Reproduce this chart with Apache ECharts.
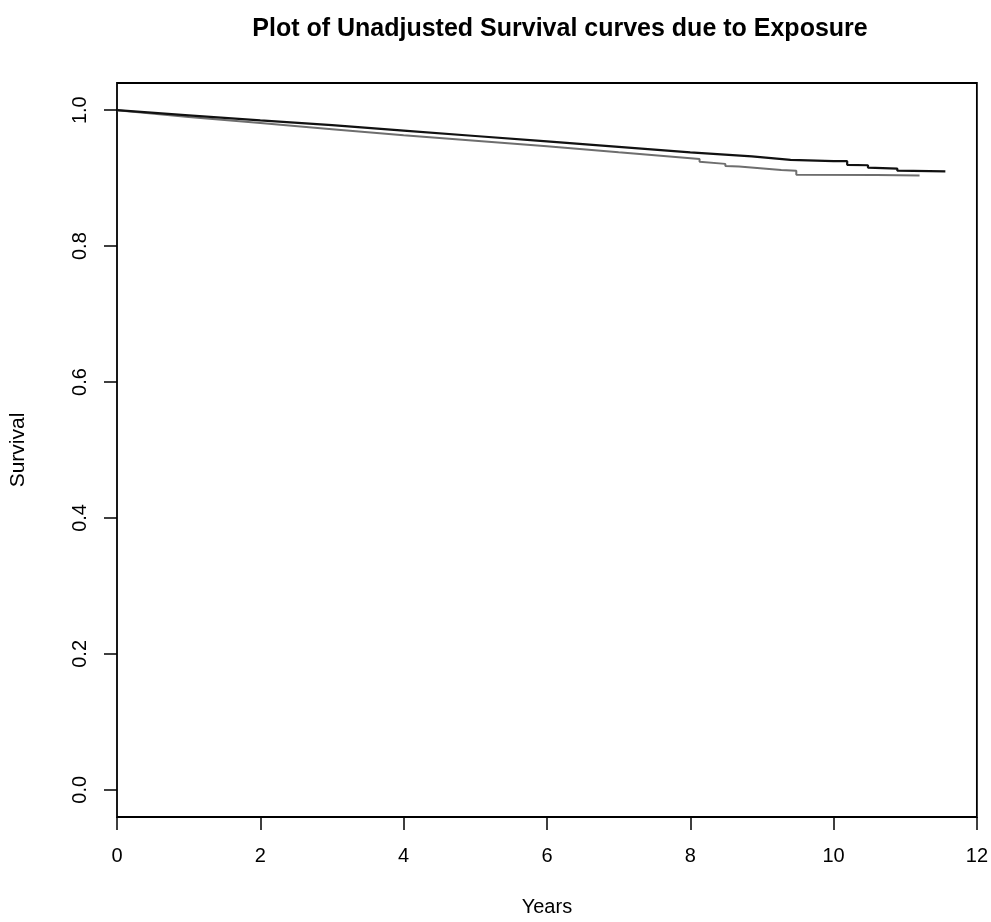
<!DOCTYPE html>
<html>
<head>
<meta charset="utf-8">
<script src="https://cdn.jsdelivr.net/npm/echarts@6/dist/echarts.min.js"></script>
<style>
html,body{margin:0;padding:0;background:#fff;}
#chart{width:991px;height:922px;}
</style>
</head>
<body>
<div id="chart"></div>
<script>
// Data
var titleText = 'Plot of Unadjusted Survival curves due to Exposure';
var xTicks = [0, 2, 4, 6, 8, 10, 12];
var yTicks = [0.0, 0.2, 0.4, 0.6, 0.8, 1.0];
var yTickLabels = ['0.0', '0.2', '0.4', '0.6', '0.8', '1.0'];

// Group 1 (black curve)
var blackTime = [0, 1, 2, 3, 4, 5, 6, 7, 8, 8.86, 9.4, 10.0, 10.19, 10.19, 10.48, 10.48, 10.89, 10.89, 11.56];
var blackSurv = [1.0, 0.9925, 0.985, 0.978, 0.970, 0.962, 0.954, 0.946, 0.938, 0.932, 0.927, 0.925, 0.925, 0.9196, 0.919, 0.9155, 0.914, 0.911, 0.910];

// Group 2 (grey curve)
var greyTime = [0, 1, 2, 3, 4, 5, 6, 7, 8.13, 8.13, 8.49, 8.49, 8.68, 8.68, 9.27, 9.48, 9.48, 10.6, 11.2];
var greySurv = [1.0, 0.990, 0.981, 0.972, 0.963, 0.955, 0.947, 0.938, 0.928, 0.924, 0.921, 0.918, 0.917, 0.9155, 0.912, 0.911, 0.905, 0.9045, 0.904];

function pairs(xs, ys) {
  var out = [];
  for (var i = 0; i < xs.length; i++) out.push([xs[i], ys[i]]);
  return out;
}

var FONT = "'Liberation Sans', Arial, Helvetica, sans-serif";
var chart = echarts.init(document.getElementById('chart'), null, {renderer: 'canvas'});
chart.setOption({
  animation: false,
  backgroundColor: '#ffffff',
  title: {
    text: titleText,
    left: 555,
    textAlign: 'center',
    top: 12,
    textStyle: {fontFamily: FONT, fontWeight: 'bold', fontSize: 25, color: '#000'}
  },
  grid: {
    left: 110, right: 6, top: 83, bottom: 100,
    show: true, borderColor: '#000', borderWidth: 1.8, backgroundColor: 'transparent',
    containLabel: false
  },
  xAxis: {
    type: 'value', min: 0, max: 12, interval: 2,
    name: 'Years', nameLocation: 'middle', nameGap: 80,
    nameTextStyle: {fontFamily: FONT, fontSize: 20, color: '#000'},
    axisLine: {show: false, onZero: false},
    axisTick: {show: true, inside: false, length: 13, lineStyle: {color: '#000', width: 1.5}, customValues: xTicks},
    axisLabel: {fontFamily: FONT, fontSize: 20, color: '#000', margin: 29, customValues: xTicks},
    splitLine: {show: false}
  },
  yAxis: {
    type: 'value', min: -0.04, max: 1.04,
    name: 'Survival', nameLocation: 'middle', nameGap: 88, nameRotate: 90,
    nameTextStyle: {fontFamily: FONT, fontSize: 21, color: '#000'},
    axisLine: {show: false, onZero: false},
    axisTick: {show: true, inside: false, length: 13, lineStyle: {color: '#000', width: 1.5}, customValues: yTicks},
    axisLabel: {
      fontFamily: FONT, fontSize: 20, color: '#000', margin: 27, rotate: 90,
      customValues: yTicks,
      formatter: function (v) {
        var i = yTicks.indexOf(Math.round(v * 10) / 10);
        return i >= 0 ? yTickLabels[i] : '';
      }
    },
    splitLine: {show: false}
  },
  series: [
    {
      name: 'Unexposed', type: 'line', data: pairs(blackTime, blackSurv),
      showSymbol: false, symbol: 'none', smooth: false,
      lineStyle: {color: '#111', width: 2.2}, z: 3
    },
    {
      name: 'Exposed', type: 'line', data: pairs(greyTime, greySurv),
      showSymbol: false, symbol: 'none', smooth: false,
      lineStyle: {color: '#6e6e6e', width: 2}, z: 2
    }
  ]
});
</script>
</body>
</html>
